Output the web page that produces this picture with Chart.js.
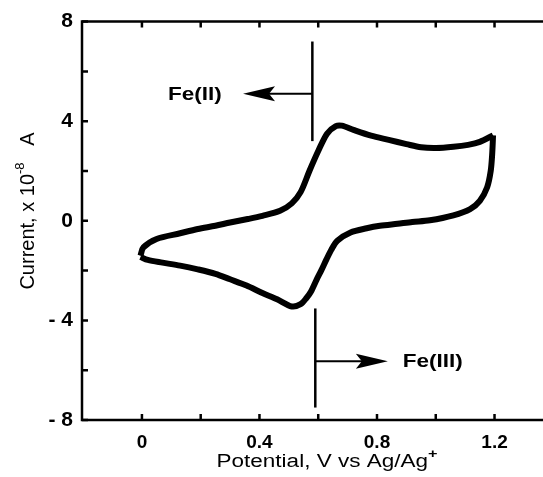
<!DOCTYPE html>
<html>
<head>
<meta charset="utf-8">
<script src="https://cdn.jsdelivr.net/npm/chart.js@4.4.1/dist/chart.umd.min.js"></script>
<style>
  html, body { margin: 0; padding: 0; background: #fff; }
  #wrap { width: 543px; height: 477px; }
</style>
</head>
<body>
<div id="wrap"><canvas id="cv" width="543" height="477"></canvas></div>
<script>
// forward scan, 0 V -> 1.2 V
const forwardPotential = [-0.005, 0.005, 0.05, 0.13, 0.19, 0.25, 0.30, 0.36, 0.41, 0.47, 0.51, 0.54, 0.57, 0.60, 0.63, 0.66, 0.68, 0.72, 0.78, 0.84, 0.90, 0.95, 1.00, 1.06, 1.11, 1.15, 1.195];
const forwardCurrent = [-1.4, -1.07, -0.73, -0.5, -0.33, -0.2, -0.07, 0.07, 0.2, 0.4, 0.7, 1.15, 2.0, 2.8, 3.5, 3.8, 3.82, 3.65, 3.42, 3.25, 3.08, 2.95, 2.92, 2.97, 3.05, 3.17, 3.43];

// reverse scan, 1.2 V -> 0 V
const reversePotential = [1.195, 1.192, 1.187, 1.175, 1.15, 1.117, 1.06, 0.98, 0.92, 0.87, 0.81, 0.765, 0.71, 0.665, 0.645, 0.628, 0.61, 0.595, 0.575, 0.56, 0.54, 0.51, 0.46, 0.41, 0.356, 0.30, 0.25, 0.19, 0.13, 0.07, 0.02, -0.005];
const reverseCurrent = [3.43, 2.67, 2.0, 1.35, 0.8, 0.47, 0.22, 0.02, -0.05, -0.12, -0.2, -0.3, -0.47, -0.8, -1.15, -1.55, -2.0, -2.35, -2.85, -3.1, -3.35, -3.44, -3.15, -2.9, -2.6, -2.35, -2.13, -1.95, -1.8, -1.68, -1.57, -1.45];

const potentialTicks = [0, 0.2, 0.4, 0.6, 0.8, 1.0, 1.2];
const potentialLabels = [0, 0.4, 0.8, 1.2];
const currentTicks = [-8, -6, -4, -2, 0, 2, 4, 6, 8];
const currentLabels = [-8, -4, 0, 4, 8];

// redox markers, in data units
const markers = [
  { text: "Fe(II)", x: 0.58, top: 7.2, bottom: 3.2, arrowY: 5.1, tipX: 0.344, textX: 0.18 },
  { text: "Fe(III)", x: 0.59, top: -3.52, bottom: -7.5, arrowY: -5.64, tipX: 0.837, textX: 0.99 },
];

const FONT = "'Liberation Sans', Arial, sans-serif";

const toPoints = (xs, ys) => xs.map((v, i) => ({ x: v, y: ys[i] }));

function stretchedText(ctx, parts, cx, cy, sx) {
  // parts: [{t, size, weight, rise}]
  let w = 0;
  parts.forEach((p) => {
    ctx.font = `${p.weight || "normal"} ${p.size}px ${FONT}`;
    p.w = ctx.measureText(p.t).width;
    w += p.w;
  });
  ctx.save();
  ctx.translate(cx, cy);
  ctx.scale(sx, 1);
  let x = -w / 2;
  ctx.textAlign = "left";
  ctx.textBaseline = "middle";
  parts.forEach((p) => {
    ctx.font = `${p.weight || "normal"} ${p.size}px ${FONT}`;
    ctx.fillText(p.t, x, -(p.rise || 0));
    x += p.w;
  });
  ctx.restore();
}

function arrowHead(ctx, tipX, y, dir) {
  const len = 32, half = 7.5, notch = 6;
  ctx.beginPath();
  ctx.moveTo(tipX, y);
  ctx.lineTo(tipX - dir * len, y - half);
  ctx.lineTo(tipX - dir * (len - notch), y);
  ctx.lineTo(tipX - dir * len, y + half);
  ctx.closePath();
  ctx.fill();
}

const frame = {
  id: "frame",
  afterDraw(chart) {
    const { ctx, chartArea: a } = chart;
    const x = chart.scales.x, y = chart.scales.y;
    ctx.save();
    ctx.strokeStyle = "#000";
    ctx.fillStyle = "#000";
    ctx.lineWidth = 2.5;
    ctx.beginPath();
    ctx.moveTo(a.right, a.top);
    ctx.lineTo(a.left, a.top);
    ctx.lineTo(a.left, a.bottom);
    ctx.lineTo(a.right, a.bottom);
    ctx.stroke();

    ctx.beginPath();
    potentialTicks.forEach((v) => {
      const px = x.getPixelForValue(v);
      ctx.moveTo(px, a.bottom);
      ctx.lineTo(px, a.bottom - 6);
      ctx.moveTo(px, a.top);
      ctx.lineTo(px, a.top + 6);
    });
    currentTicks.forEach((v) => {
      const py = y.getPixelForValue(v);
      ctx.moveTo(a.left, py);
      ctx.lineTo(a.left + 6, py);
    });
    ctx.stroke();

    // markers with arrows
    markers.forEach((m) => {
      const mx = x.getPixelForValue(m.x);
      const ay = y.getPixelForValue(m.arrowY);
      const tip = x.getPixelForValue(m.tipX);
      const dir = tip > mx ? 1 : -1;
      ctx.lineWidth = 2.5;
      ctx.beginPath();
      ctx.moveTo(mx, y.getPixelForValue(m.top));
      ctx.lineTo(mx, y.getPixelForValue(m.bottom));
      ctx.stroke();
      ctx.lineWidth = 2;
      ctx.beginPath();
      ctx.moveTo(mx, ay);
      ctx.lineTo(tip - dir * 20, ay);
      ctx.stroke();
      arrowHead(ctx, tip, ay, dir);
      stretchedText(ctx, [{ t: m.text, size: 18, weight: "bold" }], x.getPixelForValue(m.textX), ay + 1, 1.25);
    });

    // axis titles
    stretchedText(ctx, [
      { t: "Potential, V vs Ag/Ag", size: 18 },
      { t: "+", size: 13, weight: "bold", rise: 8 },
    ], 327, 462, 1.25);

    ctx.save();
    ctx.translate(28, 211);
    ctx.rotate(-Math.PI / 2);
    stretchedText(ctx, [
      { t: "Current, x 10", size: 20 },
      { t: "-8", size: 13, rise: 8 },
      { t: "   A", size: 20 },
    ], 0, 0, 1);
    ctx.restore();

    ctx.restore();
  },
};

const scanStyle = {
  showLine: true,
  borderColor: "#000",
  borderWidth: 6,
  pointRadius: 0,
  tension: 0.3,
  fill: false,
};

new Chart(document.getElementById("cv"), {
  type: "scatter",
  data: {
    datasets: [
      { ...scanStyle, data: toPoints(forwardPotential, forwardCurrent) },
      { ...scanStyle, data: toPoints(reversePotential, reverseCurrent) },
    ],
  },
  options: {
    responsive: false,
    animation: false,
    devicePixelRatio: 1,
    layout: { padding: { top: 18, right: 0, bottom: 0, left: 0 } },
    plugins: { legend: { display: false }, tooltip: { enabled: false } },
    scales: {
      x: {
        type: "linear",
        min: -0.204,
        max: 1.365,
        afterBuildTicks: (s) => { s.ticks = potentialTicks.map((v) => ({ value: v })); },
        afterFit: (s) => { s.height = 57; },
        grid: { display: false, drawTicks: false },
        border: { display: false },
        ticks: {
          autoSkip: false,
          maxRotation: 0,
          padding: 11,
          color: "#000",
          font: { family: FONT, size: 19, weight: "bold" },
          callback: (v) => {
            const r = Math.round(v * 10) / 10;
            return potentialLabels.includes(r) ? String(r) : "";
          },
        },
      },
      y: {
        min: -8,
        max: 8,
        afterBuildTicks: (s) => { s.ticks = currentTicks.map((v) => ({ value: v })); },
        afterFit: (s) => { s.width = 82; },
        grid: { display: false, drawTicks: false },
        border: { display: false },
        ticks: {
          autoSkip: false,
          padding: 9,
          color: "#000",
          font: { family: FONT, size: 21, weight: "bold" },
          callback: (v) => currentLabels.includes(v) ? (v < 0 ? "- " + (-v) : String(v)) : "",
        },
      },
    },
  },
  plugins: [frame],
});
</script>
</body>
</html>
